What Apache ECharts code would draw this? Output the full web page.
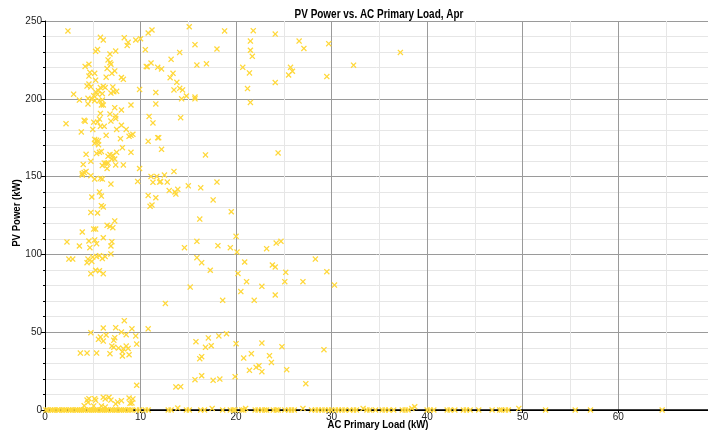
<!DOCTYPE html>
<html><head><meta charset="utf-8">
<script src="https://cdn.jsdelivr.net/npm/echarts@6/dist/echarts.min.js"></script>
<style>html,body{margin:0;padding:0;background:#fff}#c{width:708px;height:432px}</style>
</head><body><div id="c"></div>
<script>
// AC Primary Load (kW) / PV Power (kW) pairs
const morningLoads = [2.4,5.8,6.1,8.3,8.7,8.6,9.5,10.0,10.8,11.2,10.5,5.3,5.5,6.8,7.4,6.6,6.8,6.9,4.2,4.6,6.5,7.3,7.0,4.7,5.2,4.6,8.0,8.2,10.6,10.7,11.1,11.8,5.3,6.4,4.4,4.6,4.8,5.8,6.1,6.3,5.6,5.5,5.1,5.3,7.1,7.2,6.9,7.5,3.0,6.0,11.6,9.9,3.6,4.5,4.9,5.2,5.7,6.0,4.5,5.9,6.1,9.0,11.6,7.3,8.0,5.8,6.8,7.4,7.4,10.9,5.7,5.5,6.9,4.1,4.2,2.2,11.3,5.1,6.2,5.8,8.0,7.5,8.5,5.0,3.8,9.0,9.2,8.8,6.4,11.8,7.9,5.2,5.4,5.6,5.2,5.6,8.1,10.8,9.0,5.4,5.7,5.9,4.3,6.6,6.8,7.1,7.0,7.3,7.5,4.8,6.2,6.4,6.0,6.6,4.0,7.4,8.2,6.5,9.9,3.9,4.1,4.3,3.9,4.8,5.2,5.8,6.0,6.9,9.7,11.1,11.7,11.3,12.0,5.7,5.9,4.9,10.8,11.6,5.9,6.1,11.0,11.2];
const morningPV = [243.6,239.5,237.8,239.3,236.3,234.3,237.8,238.6,242.3,244.2,231.6,230.5,231.7,228.8,230.7,225,223.2,222.2,220.8,222.2,219.4,217.9,216.4,217,216.4,214.6,213.7,212.5,220.8,220.6,223,220.2,212,213.9,208.2,209.5,207.6,207.2,208,207.2,205.2,202.9,202,204.4,207.6,204.6,203.7,204.8,203,203.3,204.1,206,199.2,200.3,199.7,198.8,198.8,199.2,196.7,196,196,196,196.7,194.3,192.8,190.6,190.2,189,187.3,188.7,187,185,185.7,186.2,185.5,184,184.5,185,182.3,182.3,183,180.3,180.3,180.3,178.7,176.5,177.2,175.9,176.5,175,174.4,173.9,173.3,172.9,171.4,170.5,168.6,172.7,165.6,164.9,165.6,166.2,164.3,163,164.2,163.8,161.3,161.3,165.6,159.8,158.7,158.6,157.1,158.7,157.8,157.5,157.5,155.2,155.2,152,152.6,153.3,151,150.6,148.4,148.8,148.4,145.2,146.9,150.1,150.1,146.3,146.5,140.1,137.5,136.9,137.9,136.4,131.3,130.5,130.9,131.7];

const lowLoads = [4.8,5.5,7.3,6.5,6.8,7.1,3.9,5.1,5.3,6.1,4.6,5.2,5.4,7.0,6.9,2.3,3.6,4.7,5.7,5.4,6.3,6.0,6.9,5.0,4.5,4.9,4.4,2.5,2.9,5.3,5.7,4.8,6.1,8.3,6.1,7.4,9.1,10.8,4.8,8.0,8.5,9.5,5.8,5.6,6.4,6.1,7.3,7.2,9.6,7.0,7.2,7.7,8.2,8.5,8.7,8.1,8.1,8.8,3.7,4.4,5.4,6.8,9.6,4.6,4.4,5.2,5.3,4.5,6.1,6.3,6.7,6.9,7.6,8.0,7.4,8.8,9.2,8.9,9.1,4.1,5.1,5.9,6.3];
const lowPV = [127,126.6,121.5,118.7,118,117.2,114.4,116.3,116.3,110.7,108.6,109.3,106.9,108.2,105.4,108,105.4,104.3,99.2,98.6,98.6,97.3,100.3,98.3,97,95.5,94.7,97,97,89.8,89.5,87.6,87.6,57.4,52.7,52.9,52.2,52.2,49.7,50.1,48.4,47.6,46.9,45.4,48.2,44.3,46.5,44.8,42.4,41.1,40.3,39.8,39.4,41.1,39.6,37.5,34.7,35.5,36.6,36.6,36.6,36.2,15.9,7.3,6.4,7.3,6.2,4.9,8.2,7.1,8.2,6.4,5.1,6.0,3.9,7.7,7.1,4.3,4.5,2.8,2.6,2.6,1.9];

const highLoads = [15.1,18.8,21.8,24.1,29.7,26.6,27.1,21.5,21.5,21.7,15.7,18.0,14.1,13.2,12.2,15.9,16.9,20.7,21.4,25.7,25.9,25.5,29.5,13.4,13.1,13.8,24.1,21.2,13.5,14.1,14.4,14.8,15.7,15.7,14.3,21.5,14.2,11.9,12.2,16.8,24.4,12.5,13.5,12.1,12.8,18.0,15.0,16.3,13.0,13.6,13.9,13.7,17.6,37.2,32.3,
  19.5,16.2,20.0,15.9,14.6,18.1,19.4,20.1,23.2,24.2,24.7,15.9,16.4,17.3,20.9,20.2,23.8,24.1,25.2,28.3,29.5,30.3,21.1,22.7,25.1,27.0,15.2,20.5,24.1,18.6,21.9,12.6,19.0,18.2,17.1,15.8,20.0,22.7,17.4,16.8,24.8,29.2,16.4,16.2,23.5,23.7,21.6,20.8,22.4,22.1,22.7,21.4,25.3,16.4,15.7,17.6,18.3,19.9,13.7,14.2,27.3,13.9,17.5,21.0,27.0,33.3,38.7,38.4,49.6];
const highPV = [246.3,243.6,243.8,241.6,235.4,237.1,232.4,237.1,231.2,227.3,234.8,232,229.8,225.4,219.2,221.7,222.5,220.2,216.6,220.2,217.7,215.3,214.3,216.4,213.6,210.6,210.4,206.6,205.7,206.7,205.7,201.8,201.1,200,200,197.7,187.9,175,167.5,163.9,165.2,151,153.3,146.8,146.5,146.5,144.1,142.8,141,140.1,141.8,138.8,135,229.8,221.6,
  127.4,122.7,111.6,108.4,104.3,105.6,104.3,101.5,103.7,107.3,108.4,97.9,94.7,89.8,95.1,87.8,93.2,91.9,88.5,97,88.9,80.3,82.5,79.5,82.5,82.5,79,76.1,73.9,70.5,70.5,68.5,49,47.6,46.3,43.9,42.6,43,41.3,40.3,40.7,38.8,34.3,33,34.9,30.6,36.2,33.4,28.5,27.4,24.6,25.5,25.9,22,19.5,19.1,19.9,21.4,14.8,15,16.9,1.3,1,1,1,1,2.1,1,1];

// loads with zero PV output
const zeroPVLoads = [0.1,0.3,0.6,0.8,1.0,1.3,1.5,1.8,2.0,2.2,2.5,2.7,2.9,3.2,3.4,3.6,3.8,4.0,4.2,4.5,4.7,4.9,5.1,5.3,5.5,5.8,6.0,6.2,6.4,6.6,6.9,7.1,7.3,7.5,7.8,8.0,8.2,8.4,8.7,8.9,9.1,
  9.6,9.9,10.5,10.8,12.9,13.2,14.8,15.1,16.3,16.7,18.6,19.4,19.7,19.9,20.6,20.8,22.0,22.3,22.7,23.0,23.2,23.9,24.2,24.4,25.1,25.5,25.8,26.1,27.9,28.3,28.6,29.0,29.3,29.7,30.0,30.4,30.7,31.1,31.4,31.9,32.3,32.6,33.7,34.0,34.6,35.3,35.6,36.0,36.5,37.4,37.7,38.0,40.0,40.3,40.7,42.1,42.4,42.9,43.8,44.1,44.5,45.4,46.8,47.6,47.8,48.2,48.5,52.4,55.5,57.1,64.6];

const xTicks = [0,10,20,30,40,50,60];
const yTicks = [0,50,100,150,200,250];
const titleText = 'PV Power vs. AC Primary Load, Apr';
const xName = 'AC Primary Load (kW)';
const yName = 'PV Power (kW)';

const data = [];
morningLoads.forEach((x,i)=>data.push([x, morningPV[i]]));
lowLoads.forEach((x,i)=>data.push([x, lowPV[i]]));
highLoads.forEach((x,i)=>data.push([x, highPV[i]]));
zeroPVLoads.forEach(x=>data.push([x, 0]));

const chart = echarts.init(document.getElementById('c'), null, {renderer:'canvas'});
const xSym = 'path://M0,1.5L1.5,0L5,3.5L8.5,0L10,1.5L6.5,5L10,8.5L8.5,10L5,6.5L1.5,10L0,8.5L3.5,5Z';
const sans = "'Liberation Sans', Arial, sans-serif";
chart.setOption({
  animation:false,
  backgroundColor:'#fff',
  graphic:[
    {type:'text', x:379, y:15, scaleX:0.83, style:{text:titleText, fill:'#000', font:"bold 12px 'Liberation Sans', Arial, sans-serif", textAlign:'center', textVerticalAlign:'middle'}},
    {type:'text', x:378, y:425, scaleX:0.87, style:{text:xName, fill:'#000', font:"bold 11px 'Liberation Sans', Arial, sans-serif", textAlign:'center', textVerticalAlign:'middle'}},
    {type:'text', x:17, y:213, rotation:Math.PI/2, scaleX:0.87, style:{text:yName, fill:'#000', font:"bold 11px 'Liberation Sans', Arial, sans-serif", textAlign:'center', textVerticalAlign:'middle'}}
  ],
  grid:{left:45, right:0, top:21, bottom:22, containLabel:false, outerBoundsMode:'none'},
  xAxis:[{
    type:'value', min:0, max:69.4, interval:10,
    axisLine:{show:true, onZero:false, lineStyle:{color:'#000', width:1}},
    axisTick:{show:true, length:3, lineStyle:{color:'#000'}},
    axisLabel:{showMaxLabel:false, margin:2, fontFamily:sans, fontSize:10, color:'#222',
      formatter:v=>xTicks.includes(v)?String(v):''},
    splitLine:{show:true, lineStyle:{color:'#9a9a9a', width:1}},
    minorTick:{show:false, splitNumber:2},
    minorSplitLine:{show:true, lineStyle:{color:'#e6e6e6', width:1}}
  },{
    type:'value', position:'top', min:0, max:69.4,
    axisLine:{show:true, lineStyle:{color:'#000', width:1.5}},
    axisTick:{show:false}, axisLabel:{show:false}, splitLine:{show:false}
  }],
  yAxis:{
    type:'value', min:0, max:250, interval:50,
    axisLine:{show:true, lineStyle:{color:'#000', width:1}},
    axisTick:{show:true, length:4, lineStyle:{color:'#000'}},
    minorTick:{show:true, splitNumber:5, length:2, lineStyle:{color:'#000'}},
    axisLabel:{margin:3, fontFamily:sans, fontSize:10, color:'#222',
      formatter:v=>yTicks.includes(v)?String(v):''},
    splitLine:{show:true, lineStyle:{color:'#9a9a9a', width:1}},
    minorSplitLine:{show:true, lineStyle:{color:'#e6e6e6', width:1}}
  },
  series:[{
    type:'scatter', data:data, symbol:xSym, symbolSize:6, clip:false,
    itemStyle:{color:'#FFD83A', opacity:1}
  }]
});
</script></body></html>
